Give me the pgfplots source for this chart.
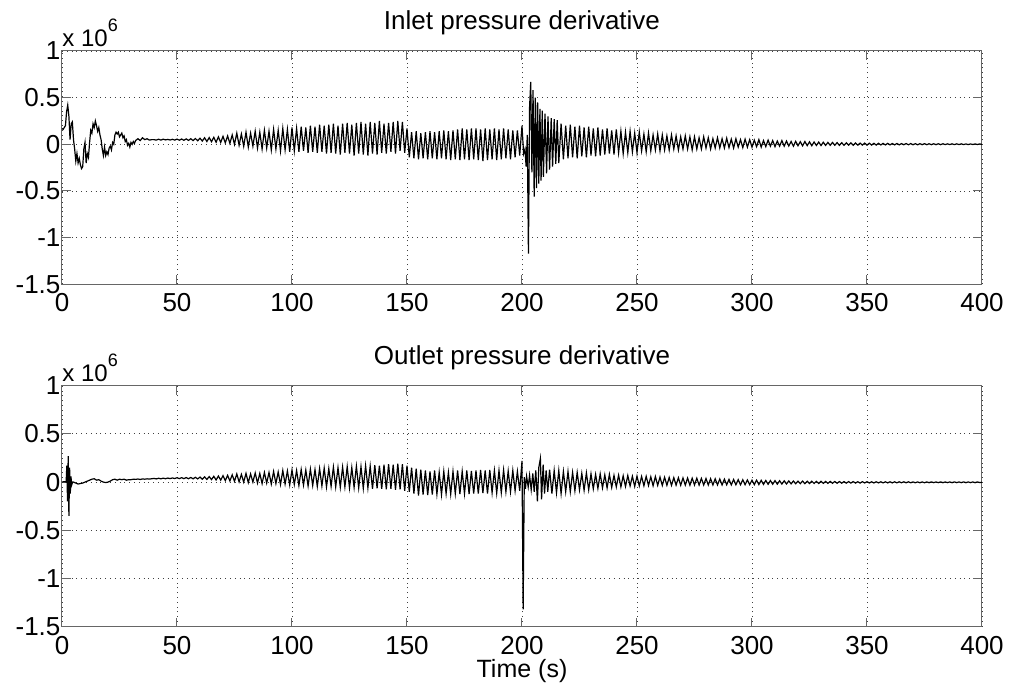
\documentclass[border=0pt]{standalone}
\usepackage{pgfplots}
\usepackage{pgfplotstable}
\pgfplotsset{compat=1.18}
\usepackage{fontspec}
\setmainfont{Liberation Sans}

\pgfplotstableread[row sep=\\]{
t y\\
0 0.17\\0.5 0.16\\1 0.18\\1.5 0.2\\2 0.35\\2.5 0.42\\3 0.3\\3.5 0.05\\4 0.22\\4.5 0.24\\
5 0.05\\5.5 -0.05\\6 -0.18\\6.5 -0.1\\7 -0.2\\7.5 -0.15\\8 -0.22\\8.5 -0.26\\9 -0.24\\9.5 -0.05\\
10 0.02\\10.5 -0.2\\11 -0.1\\11.5 -0.14\\12 0.02\\12.5 0.15\\13 0.12\\13.5 0.22\\14 0.18\\14.5 0.25\\
15 0.2\\15.5 0.14\\16 0.18\\16.5 0.1\\17 0.05\\17.5 -0.05\\18 -0.12\\18.5 -0.03\\19 -0.12\\19.5 -0.08\\
20 -0.11\\20.5 -0.04\\21 -0.02\\21.5 -0.06\\22 0.02\\22.5 0\\23 0.1\\23.5 0.13\\24 0.11\\24.5 0.13\\
25 0.08\\25.5 0.1\\26 0.12\\26.5 0.07\\27 0.09\\27.5 0.03\\28 0.05\\28.5 -0.01\\29 0.01\\29.5 -0.03\\
30 0.02\\30.5 0\\31 0.03\\31.5 0.01\\32 0.04\\33 0.06\\34 0.04\\35 0.07\\36 0.05\\37 0.06\\38 0.045\\39 0.05\\
40 0.05\\41 0.045\\42 0.055\\43 0.045\\44 0.055\\45 0.047\\46 0.053\\47 0.046\\48 0.054\\49 0.045\\
50 0.056\\51 0.044\\52 0.057\\53 0.043\\54 0.058\\55 0.042\\56 0.06\\57 0.04\\58 0.062\\59 0.038\\
60 0.065\\61 0.035\\62 0.07\\63 0.03\\64 0.072\\65 0.028\\66 0.075\\67 0.022\\68 0.08\\69 0.02\\
70 0.085\\71 0.015\\72 0.09\\73 0.01\\74 0.1\\75 0\\76 0.12\\77 -0.01\\78 0.11\\79 -0.02\\
80 0.13\\81 -0.03\\82 0.12\\83 -0.02\\84 0.14\\85 -0.04\\86 0.13\\87 -0.05\\88 0.15\\89 -0.04\\
90 0.14\\91 -0.06\\92 0.16\\93 -0.05\\94 0.15\\95 -0.07\\96 0.17\\97 -0.06\\98 0.16\\99 -0.08\\
100 0.18\\101 -0.07\\102 0.17\\103 -0.08\\104 0.19\\105 -0.07\\106 0.18\\107 -0.09\\108 0.2\\109 -0.08\\
110 0.19\\111 -0.09\\112 0.21\\113 -0.08\\114 0.2\\115 -0.1\\116 0.21\\117 -0.09\\118 0.22\\119 -0.1\\
120 0.2\\121 -0.11\\122 0.22\\123 -0.09\\124 0.23\\125 -0.1\\126 0.21\\127 -0.12\\128 0.23\\129 -0.1\\
130 0.24\\131 -0.11\\132 0.22\\133 -0.12\\134 0.24\\135 -0.1\\136 0.23\\137 -0.11\\138 0.25\\139 -0.09\\
140 0.22\\141 -0.1\\142 0.23\\143 -0.08\\144 0.24\\145 -0.1\\146 0.25\\147 -0.07\\148 0.24\\149 -0.09\\
150 0.17\\151 -0.14\\152 0.13\\153 -0.15\\154 0.14\\155 -0.16\\156 0.12\\157 -0.15\\158 0.13\\159 -0.16\\
160 0.14\\161 -0.15\\162 0.13\\163 -0.16\\164 0.14\\165 -0.15\\166 0.15\\167 -0.16\\168 0.14\\169 -0.17\\
170 0.15\\171 -0.16\\172 0.16\\173 -0.17\\174 0.17\\175 -0.16\\176 0.16\\177 -0.17\\178 0.17\\179 -0.16\\
180 0.17\\181 -0.17\\182 0.16\\183 -0.18\\184 0.17\\185 -0.17\\186 0.16\\187 -0.16\\188 0.17\\189 -0.17\\
190 0.16\\191 -0.16\\192 0.17\\193 -0.15\\194 0.16\\195 -0.16\\196 0.15\\197 -0.14\\198 0.15\\199 -0.12\\
200 0.2\\200.7 -0.1\\201.3 -0.05\\201.8 -0.24\\202.3 0.1\\202.8 -1.17\\203.3 0.4\\203.8 0.67\\204.3 -0.3\\204.8 0.58\\
205.3 -0.56\\205.8 0.5\\206.3 -0.47\\206.8 0.45\\207.3 -0.42\\207.8 0.38\\208.3 -0.39\\208.8 0.36\\209.3 -0.35\\210 0.33\\
210.7 -0.31\\211.3 0.3\\212 -0.27\\212.7 0.28\\213.3 -0.24\\214 0.27\\214.7 -0.21\\215.3 0.26\\216 -0.2\\
217 0.22\\218 -0.16\\219 0.2\\220 -0.15\\221 0.21\\222 -0.14\\223 0.19\\224 -0.15\\225 0.2\\226 -0.13\\
227 0.18\\228 -0.14\\229 0.19\\230 -0.12\\231 0.17\\232 -0.13\\233 0.18\\234 -0.12\\235 0.16\\236 -0.11\\
237 0.17\\238 -0.1\\239 0.15\\240 -0.11\\241 0.16\\242 -0.09\\243 0.14\\244 -0.1\\245 0.13\\246 -0.09\\
247 0.14\\248 -0.08\\249 0.12\\250 -0.09\\251 0.13\\252 -0.07\\253 0.11\\254 -0.08\\255 0.12\\256 -0.07\\
257 0.1\\258 -0.06\\259 0.11\\260 -0.07\\261 0.1\\262 -0.06\\263 0.09\\264 -0.06\\265 0.1\\266 -0.05\\
267 0.09\\268 -0.06\\269 0.08\\270 -0.05\\271 0.09\\272 -0.05\\273 0.08\\274 -0.06\\275 0.08\\276 -0.05\\
277 0.07\\278 -0.05\\279 0.08\\280 -0.04\\281 0.07\\282 -0.05\\283 0.06\\284 -0.04\\285 0.07\\286 -0.04\\
287 0.06\\288 -0.04\\289 0.065\\290 -0.035\\291 0.055\\292 -0.04\\293 0.06\\294 -0.03\\295 0.05\\296 -0.035\\
297 0.055\\298 -0.03\\299 0.05\\300 -0.03\\301 0.045\\302 -0.025\\303 0.05\\304 -0.03\\305 0.04\\306 -0.025\\
307 0.045\\308 -0.02\\309 0.04\\310 -0.025\\311 0.035\\312 -0.02\\313 0.04\\314 -0.02\\315 0.035\\316 -0.018\\
317 0.03\\318 -0.02\\319 0.032\\320 -0.015\\321 0.028\\322 -0.016\\323 0.03\\324 -0.014\\325 0.026\\326 -0.015\\
327 0.025\\328 -0.012\\329 0.024\\330 -0.013\\331 0.022\\332 -0.012\\333 0.02\\334 -0.011\\335 0.02\\336 -0.01\\
337 0.018\\338 -0.011\\339 0.017\\340 -0.01\\341 0.016\\342 -0.009\\343 0.015\\344 -0.01\\345 0.014\\346 -0.009\\
347 0.013\\348 -0.008\\349 0.013\\350 -0.009\\351 0.012\\352 -0.008\\353 0.011\\354 -0.008\\355 0.011\\356 -0.007\\
357 0.01\\358 -0.007\\359 0.01\\360 -0.006\\361 0.009\\362 -0.006\\363 0.009\\364 -0.006\\365 0.008\\366 -0.005\\
367 0.008\\368 -0.005\\369 0.008\\370 -0.005\\371 0.007\\372 -0.005\\373 0.007\\374 -0.004\\375 0.007\\376 -0.004\\
377 0.006\\378 -0.004\\379 0.006\\380 -0.004\\381 0.006\\382 -0.004\\383 0.006\\384 -0.003\\385 0.005\\386 -0.003\\
387 0.005\\388 -0.003\\389 0.005\\390 -0.003\\391 0.005\\392 -0.003\\393 0.004\\394 -0.003\\395 0.004\\396 -0.002\\
397 0.004\\398 -0.002\\399 0.004\\400 0\\
}\inlet

\pgfplotstableread[row sep=\\]{
t y\\
0 0\\1 0.005\\1.8 0\\2.1 0.17\\2.4 -0.2\\2.7 0.27\\3.0 -0.35\\3.3 0.15\\3.6 -0.12\\3.9 0.06\\4.2 -0.03\\4.6 0\\
5 0\\6 -0.01\\7 -0.02\\8 -0.015\\9 -0.01\\10 0\\11 0.01\\12 0.02\\13 0.03\\14 0.035\\
15 0.02\\16 0.025\\17 0.01\\18 0\\19 -0.005\\20 0\\21 0.01\\22 0.025\\23 0.03\\24 0.02\\
25 0.03\\26 0.025\\27 0.03\\28 0.02\\29 0.025\\30 0.025\\31 0.03\\32 0.028\\33 0.032\\34 0.027\\
35 0.033\\36 0.03\\37 0.034\\38 0.031\\39 0.035\\
40 0.038\\41 0.033\\42 0.04\\43 0.034\\44 0.041\\45 0.035\\46 0.042\\47 0.036\\48 0.043\\49 0.037\\
50 0.045\\51 0.036\\52 0.046\\53 0.036\\54 0.047\\55 0.035\\56 0.048\\57 0.034\\58 0.05\\59 0.033\\
60 0.052\\61 0.03\\62 0.054\\63 0.028\\64 0.057\\65 0.026\\66 0.06\\67 0.022\\68 0.063\\69 0.02\\
70 0.067\\71 0.015\\72 0.07\\73 0.012\\74 0.075\\75 0.008\\76 0.085\\77 0.002\\78 0.08\\79 0\\
80 0.09\\81 -0.005\\82 0.085\\83 0\\84 0.095\\85 -0.01\\86 0.09\\87 -0.015\\88 0.1\\89 -0.01\\
90 0.1\\91 -0.02\\92 0.11\\93 -0.015\\94 0.105\\95 -0.025\\96 0.12\\97 -0.02\\98 0.115\\99 -0.03\\
100 0.125\\101 -0.025\\102 0.12\\103 -0.035\\104 0.13\\105 -0.03\\106 0.125\\107 -0.04\\108 0.135\\109 -0.035\\
110 0.13\\111 -0.045\\112 0.14\\113 -0.04\\114 0.145\\115 -0.05\\116 0.14\\117 -0.045\\118 0.155\\119 -0.05\\
120 0.15\\121 -0.055\\122 0.155\\123 -0.05\\124 0.16\\125 -0.06\\126 0.15\\127 -0.055\\128 0.165\\129 -0.06\\
130 0.16\\131 -0.065\\132 0.17\\133 -0.06\\134 0.165\\135 -0.07\\136 0.175\\137 -0.065\\138 0.17\\139 -0.07\\
140 0.18\\141 -0.075\\142 0.185\\143 -0.07\\144 0.18\\145 -0.08\\146 0.19\\147 -0.075\\148 0.185\\149 -0.09\\
150 0.17\\151 -0.1\\152 0.15\\153 -0.12\\154 0.14\\155 -0.14\\156 0.13\\157 -0.13\\158 0.12\\159 -0.135\\
160 0.11\\161 -0.13\\162 0.12\\163 -0.125\\164 0.1\\165 -0.13\\166 0.11\\167 -0.12\\168 0.1\\169 -0.125\\
170 0.11\\171 -0.12\\172 0.12\\173 -0.125\\174 0.11\\175 -0.12\\176 0.12\\177 -0.125\\178 0.115\\179 -0.12\\
180 0.12\\181 -0.12\\182 0.125\\183 -0.115\\184 0.12\\185 -0.12\\186 0.125\\187 -0.11\\188 0.12\\189 -0.115\\
190 0.12\\191 -0.11\\192 0.125\\193 -0.1\\194 0.115\\195 -0.1\\196 0.12\\197 -0.09\\198 0.11\\199 -0.09\\
200 0.22\\200.5 -1.32\\201 0.05\\201.5 -0.07\\202 0.06\\202.7 -0.05\\203.3 0.07\\204 -0.08\\204.7 0.09\\205.3 -0.1\\
206 0.12\\206.7 -0.2\\207.3 0.15\\208 0.245\\208.5 -0.18\\209.2 0.18\\209.8 -0.12\\210.5 0.12\\211.2 -0.1\\212 0.13\\
213 -0.12\\214 0.12\\215 -0.11\\216 0.12\\217 -0.12\\218 0.11\\219 -0.1\\220 0.11\\221 -0.1\\
222 0.1\\223 -0.09\\224 0.1\\225 -0.08\\226 0.09\\227 -0.085\\228 0.095\\229 -0.08\\230 0.085\\231 -0.07\\
232 0.08\\233 -0.065\\234 0.085\\235 -0.06\\236 0.075\\237 -0.06\\238 0.08\\239 -0.055\\240 0.07\\241 -0.05\\
242 0.072\\243 -0.05\\244 0.065\\245 -0.045\\246 0.068\\247 -0.04\\248 0.06\\249 -0.045\\250 0.062\\251 -0.04\\
252 0.058\\253 -0.038\\254 0.06\\255 -0.035\\256 0.055\\257 -0.038\\258 0.057\\259 -0.034\\260 0.052\\261 -0.035\\
262 0.05\\263 -0.033\\264 0.048\\265 -0.034\\266 0.046\\267 -0.032\\268 0.045\\269 -0.033\\270 0.043\\271 -0.031\\
272 0.042\\273 -0.032\\274 0.04\\275 -0.03\\276 0.04\\277 -0.031\\278 0.038\\279 -0.03\\280 0.037\\281 -0.03\\
282 0.035\\283 -0.03\\284 0.034\\285 -0.029\\286 0.032\\287 -0.03\\288 0.03\\289 -0.028\\290 0.028\\291 -0.029\\
292 0.027\\293 -0.028\\294 0.025\\295 -0.028\\296 0.024\\297 -0.027\\298 0.022\\299 -0.027\\300 0.02\\301 -0.026\\
302 0.02\\303 -0.025\\304 0.018\\305 -0.024\\306 0.017\\307 -0.023\\308 0.016\\309 -0.022\\310 0.015\\311 -0.021\\
312 0.014\\313 -0.02\\314 0.013\\315 -0.019\\316 0.012\\317 -0.018\\318 0.011\\319 -0.017\\320 0.01\\321 -0.016\\
322 0.01\\323 -0.016\\324 0.009\\325 -0.015\\326 0.009\\327 -0.014\\328 0.008\\329 -0.014\\330 0.008\\331 -0.013\\
332 0.007\\333 -0.013\\334 0.007\\335 -0.012\\336 0.006\\337 -0.012\\338 0.006\\339 -0.011\\340 0.005\\341 -0.011\\
342 0.005\\343 -0.01\\344 0.005\\345 -0.01\\346 0.004\\347 -0.01\\348 0.004\\349 -0.009\\350 0.004\\351 -0.009\\
352 0.003\\353 -0.009\\354 0.003\\355 -0.008\\356 0.003\\357 -0.008\\358 0.003\\359 -0.008\\360 0.003\\361 -0.008\\
362 0.003\\363 -0.008\\364 0.003\\365 -0.007\\366 0.003\\367 -0.007\\368 0.003\\369 -0.007\\370 0.002\\371 -0.007\\
372 0.002\\373 -0.007\\374 0.002\\375 -0.007\\376 0.002\\377 -0.006\\378 0.002\\379 -0.006\\380 0.002\\381 -0.006\\
382 0.002\\383 -0.006\\384 0.002\\385 -0.006\\386 0.002\\387 -0.006\\388 0.002\\389 -0.006\\390 0.002\\391 -0.006\\
392 0.002\\393 -0.006\\394 0.002\\395 -0.006\\396 0.002\\397 -0.006\\398 0.002\\399 -0.005\\400 -0.002\\
}\outlet

\pgfplotsset{
  mstyle/.style={
    scale only axis,
    clip mode=individual,
    width=460pt,
    xmin=0, xmax=400, ymin=-1.5, ymax=1,
    xtick={0,50,...,400},
    ytick={-1.5,-1,-0.5,0,0.5,1},
    scaled y ticks=false,
    /pgf/number format/assume math mode=true,
    /pgf/number format/fixed,
    tick align=inside,
    major tick length=4.5pt,
    axis line style={black!60, line width=0.5pt},
    every tick/.style={black!60, line width=0.5pt},
    grid=major,
    major grid style={black!75, line width=0.4pt, dotted},
    tick label style={font=\fontsize{13}{14}\selectfont, black},
    xticklabel style={yshift=-1.2pt},
    yticklabel style={inner xsep=0.6pt},
    every axis title/.style={at={(0.5,1)}, anchor=base, yshift=10.5pt, font=\fontsize{13}{14}\selectfont},
  }
}

\begin{document}
\begin{tikzpicture}
\useasboundingbox (0,0) rectangle (504.5pt,342.5pt);
\begin{axis}[mstyle, at={(31pt,200.35pt)}, anchor=south west, height=116.65pt,
  title={Inlet pressure derivative}]
  \addplot[black, line width=0.6pt, mark=none] table[x=t, y=y] {\inlet};
  \node[anchor=base west, inner sep=0pt, font=\fontsize{12}{13}\selectfont] at (rel axis cs:0,1) [yshift=2pt] {x 10\raisebox{7.8pt}{\fontsize{9}{10}\selectfont 6}};
\end{axis}
\begin{axis}[mstyle, at={(31pt,29.15pt)}, anchor=south west, height=120.5pt,
  title={Outlet pressure derivative},
  xlabel={Time (s)},
  xlabel style={at={(0.5,0)}, anchor=base, yshift=-25.5pt, font=\fontsize{12.5}{13}\selectfont}]
  \addplot[black, line width=0.6pt, mark=none] table[x=t, y=y] {\outlet};
  \node[anchor=base west, inner sep=0pt, font=\fontsize{12}{13}\selectfont] at (rel axis cs:0,1) [yshift=2pt] {x 10\raisebox{7.8pt}{\fontsize{9}{10}\selectfont 6}};
\end{axis}
\end{tikzpicture}
\end{document}
